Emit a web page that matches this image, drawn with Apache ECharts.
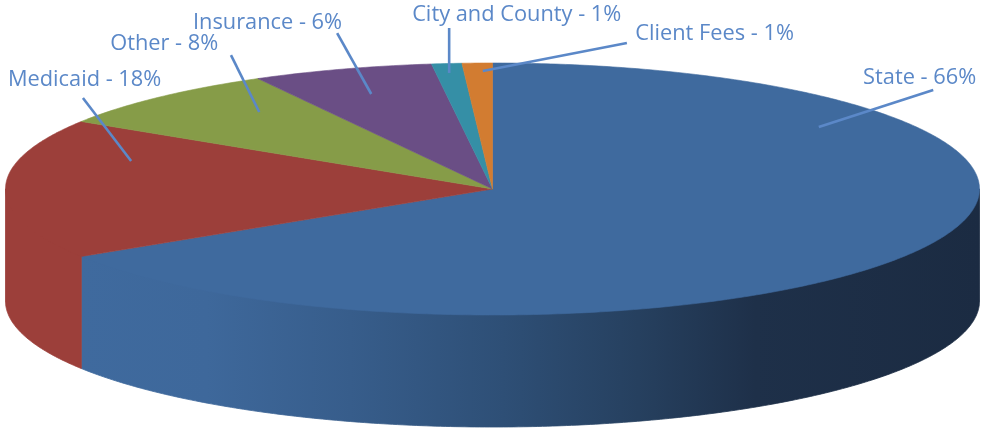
<!DOCTYPE html>
<html><head><meta charset="utf-8">
<style>html,body{margin:0;padding:0;background:#fff}#c{width:989px;height:429px}</style>
<script src="https://cdn.jsdelivr.net/npm/echarts@6/dist/echarts.min.js"></script>
</head><body><div id="c"></div>
<script>
const categories = ['State','Medicaid','Other','Insurance','City and County','Client Fees'];
const values = [66,18,8,6,1,1];
const topColors = ['#3f6a9e','#9c3f3a','#869c48','#6a4e85','#358fa6','#d27c31'];
// annotation layout, in axis units (ellipse radius = 1)
const labelAnchors = [[0.761,0.879],[-0.995,0.863],[-0.785,1.149],[-0.615,1.323],[-0.165,1.379],[0.293,1.228]];
const leaderOuter = [[0.905,0.786],[-0.841,0.722],[-0.537,1.063],[-0.319,1.238],[-0.089,1.278],[0.276,1.159]];
const leaderInner = [[0.670,0.492],[-0.742,0.222],[-0.479,0.611],[-0.249,0.754],[-0.089,0.921],[-0.020,0.937]];
const depth = 0.889;
const total = values.reduce((a,b)=>a+b,0);
const starts = []; values.reduce((a,v,i)=>{starts[i]=a;return a+v;},0);

function arcPts(a0,a1,dy,r){
  const n=Math.max(2,Math.ceil((a1-a0)/0.01)), out=[];
  for(let k=0;k<=n;k++){const a=a0+(a1-a0)*k/n;out.push([Math.sin(a)*r,Math.cos(a)*r-dy]);}
  return out;
}
const sideGradient = new echarts.graphic.LinearGradient(0,0,1,0,[
  {offset:0,color:'#3f6a9e'},{offset:0.14,color:'#3e689b'},{offset:0.3,color:'#375d8b'},
  {offset:0.47,color:'#2e4f76'},{offset:0.62,color:'#26405f'},{offset:0.75,color:'#1e3049'},{offset:1,color:'#1b2b42'}]);

function renderItem(params,api){
  const i=api.value(0), v=api.value(1);
  const a0=starts[i]/total*2*Math.PI, a1=(starts[i]+v)/total*2*Math.PI;
  const c=p=>api.coord(p);
  const kids=[];
  // front wall: the visible part is angle PI/2 .. 3PI/2; its upper edge tucks under the top face
  const s0=Math.max(a0,Math.PI/2), s1=Math.min(a1,3*Math.PI/2);
  if(s1>s0){
    const rim=arcPts(s0,s1,0,1), inner=arcPts(s0,s1,0,0.97).slice(1,-1), down=arcPts(s0,s1,depth,1).reverse();
    const fill=i===0?sideGradient:topColors[i];
    kids.push({type:'polygon',shape:{points:[rim[0]].concat(inner,[rim[rim.length-1]],down).map(c)},
      style:{fill:fill,stroke:fill,lineWidth:0.8}});
  }
  const pts=[[0,0]].concat(arcPts(a0,a1,0,1));
  kids.push({type:'polygon',z2:5,shape:{points:pts.map(c)},
    style:{fill:topColors[i],stroke:topColors[i],lineWidth:0.6}});
  return {type:'group',children:kids};
}
function renderNotes(params,api){
  const i=api.value(0), v=api.value(1);
  const a=c0=>api.coord(c0);
  const o=a(leaderOuter[i]), n=a(leaderInner[i]), l=a(labelAnchors[i]);
  return {type:'group',children:[
    {type:'line',shape:{x1:o[0],y1:o[1],x2:n[0],y2:n[1]},style:{stroke:'#5b88c8',lineWidth:2.6}},
    {type:'text',x:l[0],y:l[1],style:{text:categories[i]+' - '+v+'%',fill:'#5b88c8',
      font:'21.8px "Open Sans"',textAlign:'left',textVerticalAlign:'middle'}}
  ]};
}
const seriesData = values.map((v,i)=>[i,v]);
const chart = echarts.init(document.getElementById('c'),null,{renderer:'canvas'});
chart.setOption({
  animation:false,
  backgroundColor:'#fff',
  grid:{left:5.5,top:63,width:974,height:252},
  xAxis:{type:'value',min:-1,max:1,show:false},
  yAxis:{type:'value',min:-1,max:1,show:false},
  tooltip:{show:false},
  series:[
    {type:'custom',silent:true,renderItem,data:seriesData,clip:false,z:2},
    {type:'custom',silent:true,renderItem:renderNotes,data:seriesData,clip:false,z:3}
  ]
});
</script></body></html>
